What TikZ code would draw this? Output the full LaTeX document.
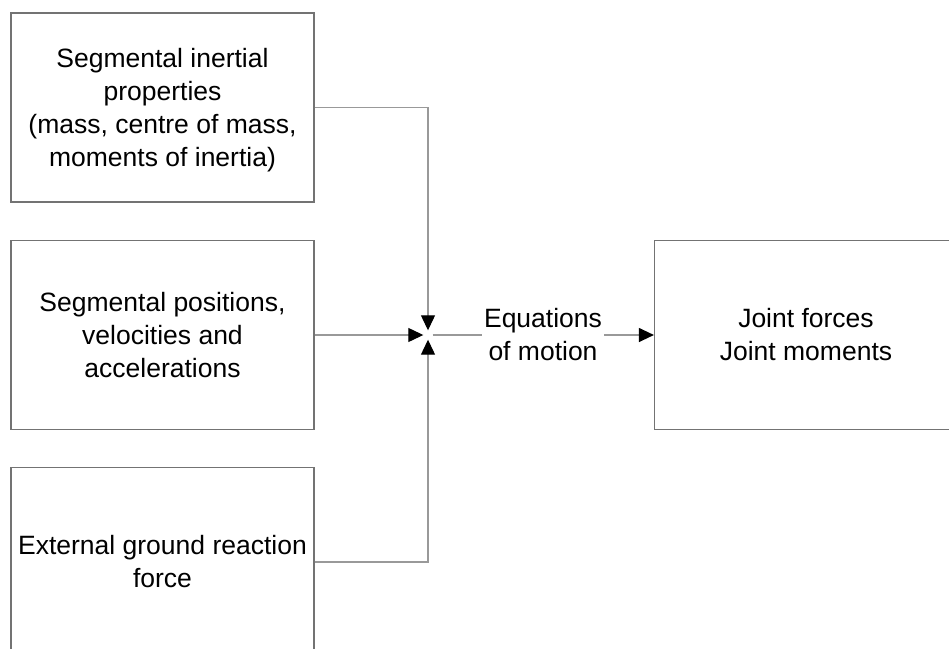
\documentclass[tikz,border=0pt]{standalone}
\usepackage{fontspec}
\setmainfont{Liberation Sans}
\usetikzlibrary{arrows.meta}

\begin{document}
\begin{tikzpicture}[x=1pt,y=-1pt,
    blok/.style={draw=black!55, line width=1.2pt, minimum width=303pt,
      minimum height=189pt, inner sep=0pt, align=center,
      font=\fontsize{26.5}{33}\selectfont},
    lijn/.style={draw=black!40, line width=1.2pt},
    pijl/.style={lijn, -{Triangle[length=15pt,width=14pt,fill=black,color=black]}}]
  \clip (0,0) rectangle (949,648);
  \node[blok, text depth=-9pt] (inertia) at (162.5,107.5) {Segmental inertial\\properties\\(mass, centre of mass,\\moments of inertia)};
  \node[blok] (kinematics) at (162.5,335) {Segmental positions,\\velocities and\\accelerations};
  \node[blok] (grf) at (162.5,562) {External ground reaction\\force};
  \node[blok] (output) at (806,335) {Joint forces\\Joint moments};
  \node[minimum size=9pt, inner sep=0pt] (hub) at (428,335) {};
  \node[align=center, inner sep=2pt, font=\fontsize{26.5}{33}\selectfont] (eom) at (543,335) {Equations\\of motion};
  % inputs into the equations of motion
  \draw[pijl] (inertia.east) -| (hub.north);
  \draw[pijl] (kinematics.east) -- (hub.west);
  \draw[pijl] (grf.east) -| (hub.south);
  \draw[lijn] (hub.east) -- (eom.west);
  \draw[pijl] (eom.east) -- (output.west);
\end{tikzpicture}
\end{document}
